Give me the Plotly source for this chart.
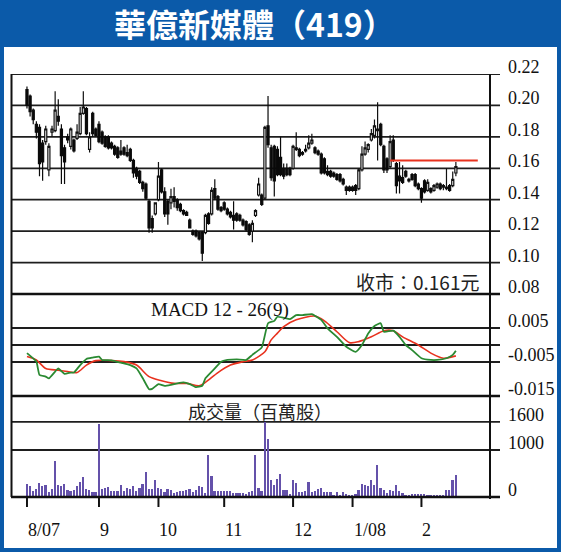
import plotly.graph_objects as go

# ---------------- data ----------------
title_text = "華億新媒體（419）"
month_labels = ["8/07", "9", "10", "11", "12", "1/08", "2"]
month_start_idx = [0, 23, 42, 63, 85, 104, 126]

opens = [0.210, 0.206, 0.197, 0.188, 0.186, 0.176, 0.177, 0.159, 0.183, 0.184,
         0.193, 0.185, 0.173, 0.180, 0.174, 0.178, 0.179, 0.182, 0.195, 0.198,
         0.172, 0.195, 0.185, 0.188, 0.183, 0.180, 0.180, 0.176, 0.174, 0.173,
         0.171, 0.173, 0.170, 0.172, 0.165, 0.160, 0.158, 0.151, 0.150, 0.139,
         0.128, 0.131, 0.140, 0.159, 0.145, 0.139, 0.138, 0.142, 0.140, 0.137,
         0.133, 0.132, 0.127, 0.120, 0.120, 0.119, 0.119, 0.119, 0.131, 0.131,
         0.147, 0.142, 0.135, 0.138, 0.134, 0.132, 0.130, 0.131, 0.130, 0.127,
         0.126, 0.124, 0.120, 0.130, 0.143, 0.143, 0.141, 0.187, 0.173, 0.174,
         0.172, 0.167, 0.160, 0.160, 0.160, 0.160, 0.173, 0.172, 0.170, 0.172,
         0.173, 0.176, 0.173, 0.171, 0.169, 0.166, 0.158, 0.158, 0.157, 0.156,
         0.156, 0.153, 0.148, 0.148, 0.148, 0.149, 0.147, 0.159, 0.169, 0.172,
         0.178, 0.181, 0.184, 0.188, 0.174, 0.166, 0.161, 0.178, 0.163, 0.155,
         0.154, 0.158, 0.153, 0.156, 0.156, 0.150, 0.147, 0.152, 0.146, 0.147,
         0.146, 0.148, 0.150, 0.148, 0.147, 0.149, 0.149, 0.157]
highs = [0.212, 0.207, 0.198, 0.190, 0.188, 0.178, 0.187, 0.176, 0.187, 0.209,
         0.204, 0.188, 0.175, 0.182, 0.186, 0.179, 0.188, 0.199, 0.209, 0.199,
         0.183, 0.196, 0.186, 0.190, 0.184, 0.181, 0.181, 0.177, 0.175, 0.174,
         0.178, 0.174, 0.175, 0.173, 0.166, 0.161, 0.159, 0.152, 0.151, 0.140,
         0.130, 0.138, 0.164, 0.160, 0.148, 0.140, 0.147, 0.148, 0.141, 0.138,
         0.134, 0.133, 0.128, 0.121, 0.121, 0.120, 0.120, 0.131, 0.132, 0.148,
         0.153, 0.143, 0.136, 0.139, 0.135, 0.133, 0.139, 0.132, 0.131, 0.128,
         0.127, 0.125, 0.127, 0.134, 0.154, 0.144, 0.187, 0.206, 0.175, 0.175,
         0.174, 0.180, 0.163, 0.163, 0.161, 0.175, 0.183, 0.173, 0.171, 0.175,
         0.181, 0.182, 0.174, 0.172, 0.170, 0.167, 0.162, 0.159, 0.158, 0.157,
         0.157, 0.154, 0.149, 0.149, 0.149, 0.150, 0.160, 0.174, 0.177, 0.176,
         0.185, 0.191, 0.202, 0.189, 0.175, 0.167, 0.181, 0.181, 0.164, 0.164,
         0.162, 0.159, 0.154, 0.157, 0.157, 0.151, 0.148, 0.153, 0.153, 0.148,
         0.150, 0.151, 0.151, 0.150, 0.160, 0.150, 0.158, 0.164]
lows = [0.198, 0.193, 0.188, 0.179, 0.155, 0.152, 0.175, 0.155, 0.180, 0.183,
        0.187, 0.150, 0.150, 0.176, 0.172, 0.170, 0.178, 0.181, 0.194, 0.181,
        0.170, 0.180, 0.180, 0.176, 0.175, 0.173, 0.172, 0.172, 0.168, 0.166,
        0.168, 0.168, 0.167, 0.164, 0.154, 0.153, 0.150, 0.145, 0.140, 0.119,
        0.119, 0.130, 0.139, 0.144, 0.129, 0.124, 0.134, 0.135, 0.133, 0.132,
        0.130, 0.130, 0.122, 0.117, 0.116, 0.114, 0.101, 0.118, 0.124, 0.130,
        0.140, 0.133, 0.132, 0.133, 0.130, 0.128, 0.121, 0.126, 0.126, 0.123,
        0.120, 0.117, 0.113, 0.129, 0.142, 0.136, 0.140, 0.173, 0.152, 0.142,
        0.155, 0.155, 0.153, 0.155, 0.155, 0.159, 0.171, 0.167, 0.168, 0.170,
        0.172, 0.175, 0.169, 0.168, 0.156, 0.156, 0.155, 0.154, 0.154, 0.152,
        0.151, 0.149, 0.143, 0.145, 0.145, 0.143, 0.146, 0.158, 0.168, 0.170,
        0.177, 0.179, 0.165, 0.174, 0.157, 0.157, 0.160, 0.164, 0.144, 0.144,
        0.150, 0.154, 0.151, 0.152, 0.148, 0.146, 0.138, 0.144, 0.145, 0.144,
        0.145, 0.147, 0.146, 0.146, 0.146, 0.145, 0.148, 0.155]
closes = [0.200, 0.196, 0.191, 0.183, 0.163, 0.164, 0.185, 0.174, 0.185, 0.197,
          0.190, 0.168, 0.164, 0.178, 0.185, 0.171, 0.183, 0.195, 0.199, 0.182,
          0.180, 0.182, 0.181, 0.177, 0.176, 0.174, 0.173, 0.173, 0.169, 0.167,
          0.169, 0.169, 0.168, 0.165, 0.157, 0.155, 0.151, 0.147, 0.141, 0.122,
          0.122, 0.138, 0.155, 0.145, 0.131, 0.131, 0.142, 0.139, 0.135, 0.133,
          0.131, 0.130, 0.122, 0.118, 0.117, 0.115, 0.106, 0.130, 0.125, 0.146,
          0.141, 0.134, 0.133, 0.134, 0.131, 0.129, 0.127, 0.127, 0.127, 0.124,
          0.121, 0.118, 0.125, 0.133, 0.150, 0.137, 0.186, 0.175, 0.154, 0.152,
          0.156, 0.156, 0.155, 0.156, 0.156, 0.174, 0.172, 0.168, 0.169, 0.171,
          0.176, 0.178, 0.170, 0.169, 0.157, 0.157, 0.156, 0.155, 0.155, 0.153,
          0.152, 0.150, 0.146, 0.146, 0.146, 0.146, 0.159, 0.169, 0.173, 0.175,
          0.182, 0.187, 0.185, 0.175, 0.159, 0.159, 0.177, 0.165, 0.149, 0.152,
          0.151, 0.155, 0.152, 0.153, 0.149, 0.147, 0.141, 0.145, 0.151, 0.145,
          0.149, 0.150, 0.147, 0.149, 0.148, 0.146, 0.153, 0.161]

volume = [271, 228, 121, 178, 300, 228, 250, 100, 178, 764,
          264, 228, 271, 143, 121, 143, 228, 314, 421, 178,
          143, 114, 107, 1550, 178, 200, 221, 121, 121, 121,
          264, 121, 200, 164, 243, 121, 200, 271, 528, 178,
          164, 357, 200, 164, 107, 178, 157, 86, 107, 121,
          121, 143, 178, 107, 143, 243, 221, 86, 886, 443,
          121, 121, 121, 121, 121, 121, 86, 86, 86, 86,
          71, 107, 121, 886, 200, 121, 1600, 1230, 357, 264,
          393, 500, 157, 143, 71, 357, 293, 107, 107, 121,
          328, 107, 121, 178, 200, 107, 107, 107, 36, 107,
          36, 107, 71, 36, 50, 71, 157, 271, 250, 228,
          357, 264, 678, 200, 143, 86, 157, 121, 250, 121,
          86, 50, 50, 71, 57, 57, 57, 71, 36, 36,
          36, 36, 36, 36, 157, 143, 357, 478]

macd_idx = [0, 3, 4, 6, 7, 9, 10, 12, 14, 15, 17, 19, 21, 23, 24, 27, 30, 33, 35, 37,
            39, 40, 42, 44, 46, 48, 50, 52, 54, 56, 57, 60, 62, 64, 67, 70, 72, 75, 77, 79,
            80, 82, 84, 86, 88, 91, 94, 96, 99, 102, 105, 107, 109, 111, 113, 114, 117, 119, 121, 123,
            126, 129, 131, 134, 136, 137]
macd_val = [-0.0024, -0.0049, -0.0088, -0.0093, -0.0098, -0.0078, -0.0069, -0.0085, -0.0081, -0.0081,
            -0.0059, -0.0041, -0.0037, -0.0034, -0.0044, -0.0045, -0.0052, -0.0059, -0.0069, -0.0098,
            -0.0130, -0.0129, -0.0115, -0.0120, -0.0117, -0.0113, -0.0110, -0.0115, -0.0124, -0.0120,
            -0.0098, -0.0069, -0.0049, -0.0044, -0.0042, -0.0044, -0.0029, -0.0007, 0.0064, 0.0071,
            0.0083, 0.0080, 0.0076, 0.0088, 0.0088, 0.0091, 0.0074, 0.0049, 0.0024, -0.0005,
            -0.0020, 0.0000, 0.0034, 0.0056, 0.0064, 0.0039, 0.0042, 0.0024, 0.0000, -0.0015,
            -0.0039, -0.0044, -0.0044, -0.0039, -0.0029, -0.0017]
signal_idx = [0, 3, 6, 10, 13, 16, 19, 22, 27, 31, 35, 39, 43, 47, 51, 55, 57, 61, 65, 69,
              72, 76, 78, 80, 82, 86, 92, 95, 99, 103, 106, 110, 114, 117, 120, 125, 129, 133, 137]
signal_val = [-0.0034, -0.0044, -0.0069, -0.0074, -0.0078, -0.0081, -0.0059, -0.0046, -0.0046, -0.0049,
              -0.0059, -0.0093, -0.0105, -0.0113, -0.0113, -0.0120, -0.0110, -0.0081, -0.0059, -0.0049,
              -0.0044, -0.0020, 0.0015, 0.0035, 0.0054, 0.0074, 0.0085, 0.0071, 0.0039, 0.0007,
              0.0010, 0.0024, 0.0042, 0.0042, 0.0024, 0.0000, -0.0024, -0.0039, -0.0032]

resist_idx = [116, 144]
resist_val = [0.165, 0.165]

price_ticks = [0.08, 0.10, 0.12, 0.14, 0.16, 0.18, 0.20, 0.22]
macd_ticks = [0.005, -0.005, -0.015]
macd_grid = [0.005, 0.0, -0.005]
vol_ticks = [1600, 1000, 0]
close_label = "收市：0.161元"
macd_label = "MACD 12 - 26(9)"
vol_label = "成交量（百萬股）"

# ---------------- layout helpers ----------------
W, H = 561, 552
BLUE = "#0b5aa9"
DARK = "#1e1e1e"


def px(x):
    return x / W


def py(y):
    return 1 - y / H


idx = list(range(len(closes)))

fig = go.Figure()

fig.add_trace(go.Candlestick(
    x=idx, open=opens, high=highs, low=lows, close=closes,
    increasing=dict(line=dict(color="#111111", width=1.2), fillcolor="white"),
    decreasing=dict(line=dict(color="#0a0a0a", width=1.2), fillcolor="#0a0a0a"),
    whiskerwidth=0, xaxis="x", yaxis="y", showlegend=False, hoverinfo="skip"))

fig.add_trace(go.Scatter(x=resist_idx, y=resist_val, mode="lines",
                         line=dict(color="#e8321e", width=2), xaxis="x", yaxis="y",
                         showlegend=False, hoverinfo="skip"))

fig.add_trace(go.Scatter(x=signal_idx, y=signal_val, mode="lines",
                         line=dict(color="#e8321e", width=1.6, shape="spline", smoothing=0.8),
                         xaxis="x", yaxis="y2", showlegend=False, hoverinfo="skip"))
fig.add_trace(go.Scatter(x=macd_idx, y=macd_val, mode="lines",
                         line=dict(color="#2a8a32", width=1.8, shape="spline", smoothing=0.4),
                         xaxis="x", yaxis="y2", showlegend=False, hoverinfo="skip"))

fig.add_trace(go.Bar(x=idx, y=volume, width=0.55, marker=dict(color="#6451aa", line=dict(width=0)),
                     xaxis="x", yaxis="y3", showlegend=False, hoverinfo="skip"))

shapes = []
# title bar and blue frame
shapes.append(dict(type="rect", xref="paper", yref="paper", x0=0, x1=1, y0=py(47), y1=1,
                   fillcolor=BLUE, line=dict(width=0), layer="above"))
for (x0, x1, y0, y1) in [(0, px(4), 0, 1), (px(557), 1, 0, 1), (0, 1, 0, py(548))]:
    shapes.append(dict(type="rect", xref="paper", yref="paper", x0=x0, x1=x1, y0=y0, y1=y1,
                       fillcolor=BLUE, line=dict(width=0), layer="above"))

gx0, gx1 = px(11), px(500)
for v in price_ticks[1:]:
    shapes.append(dict(type="line", xref="paper", yref="y", x0=gx0, x1=gx1, y0=v, y1=v,
                       line=dict(color=DARK, width=1.8), layer="below"))
for v in macd_grid:
    shapes.append(dict(type="line", xref="paper", yref="y2", x0=gx0, x1=gx1, y0=v, y1=v,
                       line=dict(color=DARK, width=1.8), layer="below"))
for v in vol_ticks[:2]:
    shapes.append(dict(type="line", xref="paper", yref="y3", x0=gx0, x1=gx1, y0=v, y1=v,
                       line=dict(color=DARK, width=1.8), layer="below"))
# panel separators
for ypix in [294, 396, 497]:
    shapes.append(dict(type="line", xref="paper", yref="paper", x0=gx0, x1=gx1, y0=py(ypix), y1=py(ypix),
                       line=dict(color="#111111", width=2.6), layer="above"))
# left border and right axis line
shapes.append(dict(type="line", xref="paper", yref="paper", x0=px(11.5), x1=px(11.5), y0=py(497), y1=py(74),
                   line=dict(color="#111111", width=2), layer="above"))
shapes.append(dict(type="line", xref="paper", yref="paper", x0=px(490), x1=px(490), y0=py(499), y1=py(74),
                   line=dict(color="#111111", width=2), layer="above"))
# month ticks
for m in month_start_idx:
    shapes.append(dict(type="line", xref="x", yref="paper", x0=m, x1=m, y0=py(497), y1=py(507),
                       line=dict(color="#111111", width=2), layer="above"))

annotations = []
annotations.append(dict(text=title_text, x=px(254), y=py(23), xref="paper", yref="paper",
                        showarrow=False, xanchor="center", yanchor="middle",
                        font=dict(family="Noto Sans CJK TC", size=32, color="white", weight="bold")))
serif = "Liberation Serif"
for v in price_ticks:
    annotations.append(dict(text=f"{v:.2f}", x=px(506), y=v, xref="paper", yref="y", yshift=7,
                            showarrow=False, xanchor="left", yanchor="middle",
                            font=dict(family=serif, size=18, color="#111111")))
for v in macd_ticks:
    annotations.append(dict(text=f"{v:.3f}", x=px(506), y=v, xref="paper", yref="y2", yshift=7,
                            showarrow=False, xanchor="left", yanchor="middle",
                            font=dict(family=serif, size=18, color="#111111")))
for v in vol_ticks:
    annotations.append(dict(text=str(v), x=px(506), y=v, xref="paper", yref="y3", yshift=7,
                            showarrow=False, xanchor="left", yanchor="middle",
                            font=dict(family=serif, size=18, color="#111111")))
for m, lab in zip(month_start_idx, month_labels):
    annotations.append(dict(text=lab, x=m, y=py(530), xref="x", yref="paper",
                            showarrow=False, xanchor="left", yanchor="middle", xshift=-1,
                            font=dict(family=serif, size=18, color="#111111")))
annotations.append(dict(text=close_label, x=px(481), y=py(281), xref="paper", yref="paper",
                        showarrow=False, xanchor="right", yanchor="middle",
                        font=dict(family="Noto Sans CJK TC", size=19, color="#222222")))
annotations.append(dict(text=macd_label, x=px(149), y=py(310), xref="paper", yref="paper",
                        showarrow=False, xanchor="left", yanchor="middle",
                        font=dict(family=serif, size=19, color="#111111")))
annotations.append(dict(text=vol_label, x=px(186), y=py(411), xref="paper", yref="paper",
                        showarrow=False, xanchor="left", yanchor="middle",
                        font=dict(family="Noto Sans CJK TC", size=18, color="#222222")))

fig.update_layout(
    width=W, height=H, margin=dict(l=0, r=0, t=0, b=0),
    paper_bgcolor="white", plot_bgcolor="rgba(0,0,0,0)",
    showlegend=False, boxgap=0.05, bargap=0,
    xaxis=dict(range=[-5.1, 147.9], domain=[px(11), px(490)], visible=False,
               rangeslider=dict(visible=False), anchor="y3", fixedrange=True),
    yaxis=dict(range=[0.08, 0.22], domain=[py(294), py(74)], visible=False, anchor="x"),
    yaxis2=dict(range=[-0.015, 0.015], domain=[py(396), py(294)], visible=False, anchor="x"),
    yaxis3=dict(range=[0, 2150], domain=[py(497), py(396)], visible=False, anchor="x"),
    shapes=shapes, annotations=annotations,
)

fig.write_html("out.html", config={"displayModeBar": False},
               post_script="document.body.style.margin='0';document.body.style.overflow='hidden';")
